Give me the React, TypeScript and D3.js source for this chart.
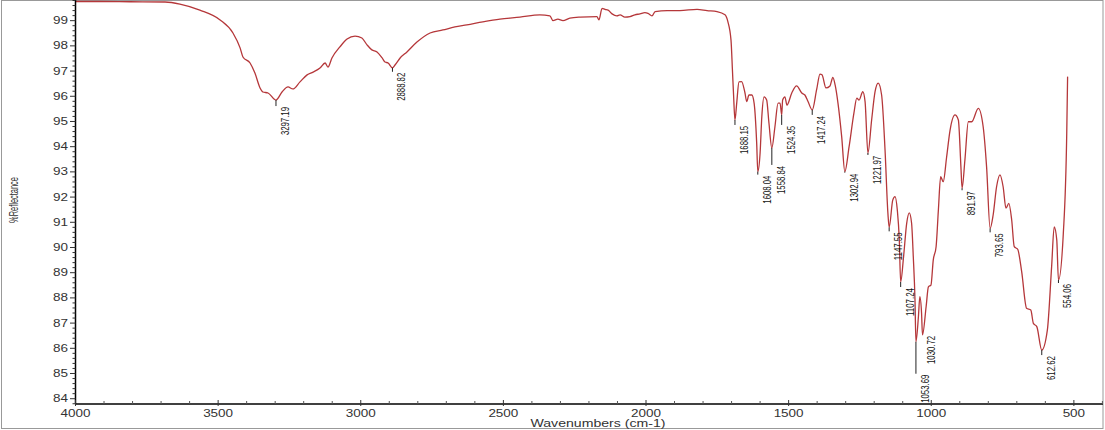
import React from 'react';
import * as d3 from 'd3';

// spectrum (cm-1 -> %R)
const wavenumbers = [
  4000, 3914, 3809, 3686, 3634, 3564, 3493, 3448, 3423, 3413,
  3388, 3371, 3353, 3343, 3325, 3297.19, 3276, 3255, 3238, 3213,
  3188, 3167, 3143, 3125, 3115, 3101, 3073, 3048, 3020, 2996,
  2978, 2961, 2943, 2925, 2915, 2904, 2888.82, 2880, 2862, 2838,
  2803, 2757, 2712, 2670, 2628, 2572, 2512, 2442, 2372, 2337,
  2326, 2309, 2291, 2267, 2231, 2172, 2165, 2154, 2144, 2133,
  2119, 2102, 2091, 2074, 2056, 2039, 2021, 2004, 1993, 1979,
  1968, 1926, 1881, 1821, 1786, 1751, 1723, 1713, 1702, 1697,
  1693, 1688.15, 1682, 1674, 1665, 1653, 1647, 1639, 1629, 1621,
  1612, 1608.04, 1600, 1594, 1586, 1577, 1569, 1558.84, 1548, 1537,
  1530, 1524.35, 1521, 1513, 1506, 1489, 1472, 1454, 1443, 1432,
  1417.24, 1402, 1390, 1383, 1369, 1355, 1345, 1337, 1327, 1314,
  1302.94, 1288, 1271, 1261, 1253, 1240, 1232, 1221.97, 1209, 1197,
  1186, 1174, 1162, 1152, 1147.55, 1135, 1127, 1119, 1112, 1107.24,
  1097, 1086, 1077, 1069, 1063, 1057, 1053.69, 1045, 1040, 1034,
  1030.72, 1018, 1010, 1001, 993, 983, 975, 967, 958, 946,
  934, 917, 905, 896, 891.97, 882, 870, 858, 835, 818,
  806, 793.65, 783, 771, 759, 748, 738, 728, 718, 709,
  697, 683, 666, 651, 642, 630, 612.62, 593, 578, 569,
  560, 554.06, 537, 525, 522,
];

const reflectance = [
  99.76, 99.76, 99.75, 99.74, 99.66, 99.42, 99.03, 98.51, 97.92, 97.56,
  97.32, 96.92, 96.33, 96.17, 96.13, 95.85, 96.17, 96.37, 96.29, 96.57,
  96.85, 96.96, 97.12, 97.32, 97.16, 97.52, 97.96, 98.27, 98.39, 98.31,
  98.04, 97.84, 97.76, 97.52, 97.36, 97.32, 97.13, 97.24, 97.52, 97.76,
  98.15, 98.51, 98.63, 98.75, 98.83, 98.95, 99.06, 99.14, 99.23, 99.19,
  99.0, 99.06, 99.0, 99.1, 99.14, 99.16, 99.03, 99.49, 99.45, 99.42,
  99.27, 99.19, 99.23, 99.14, 99.16, 99.23, 99.27, 99.32, 99.29, 99.19,
  99.36, 99.4, 99.4, 99.45, 99.4, 99.36, 99.23, 98.96, 98.23, 97.04,
  96.05, 95.06, 95.73, 96.57, 96.58, 96.13, 95.79, 96.05, 96.05, 95.73,
  94.15, 93.01, 93.75, 95.19, 95.98, 95.85, 94.94, 93.95, 94.79, 95.73,
  95.73, 95.26, 95.85, 95.98, 95.65, 96.13, 96.41, 96.13, 96.05, 95.79,
  95.46, 96.25, 96.88, 96.85, 96.33, 96.41, 96.75, 96.45, 95.73, 94.4,
  93.01, 94.0, 95.34, 95.93, 95.85, 96.18, 95.79, 93.75, 95.06, 96.18,
  96.52, 96.05, 93.87, 91.37, 90.8, 91.88, 92.02, 91.49, 90.3, 88.63,
  89.64, 90.97, 91.37, 90.97, 89.64, 87.92, 86.26, 87.25, 88.05, 87.4,
  86.53, 87.65, 88.44, 88.51, 89.5, 90.03, 91.49, 92.81, 92.61, 93.6,
  94.66, 95.26, 95.06, 93.2, 92.35, 93.47, 94.99, 94.99, 95.52, 94.79,
  93.2, 90.76, 91.29, 92.41, 92.88, 92.41, 91.56, 91.75, 91.09, 90.03,
  89.93, 89.04, 87.59, 87.52, 86.99, 86.86, 85.93, 86.72, 89.24, 90.82,
  90.3, 88.71, 90.56, 94.53, 96.78,
];

// labelled minima
const peakLabels = [
  3297.19, 2888.82, 1688.15, 1608.04, 1558.84, 1524.35, 1417.24, 1302.94,
  1221.97, 1147.55, 1107.24, 1053.69, 1030.72, 891.97, 793.65, 612.62, 554.06,
];

const yTicks = d3.range(84, 100);
const xTicks = [4000, 3500, 3000, 2500, 2000, 1500, 1000, 500];

// leader line length under each peak label (px)
const leaders = [6, 4, 5, 3, 17, 10, 5, 1, 2, 4, 5, 32, 0, 2, 4, 5, 3];

const W = 1105;
const H = 430;
const font = "'Liberation Sans', Arial, sans-serif";

export default function App() {
  const x = d3.scaleLinear().domain([4000, 400]).range([75.5, 1102.4]);
  const y = d3.scaleLinear().domain([83.79, 99.82]).range([404, 0]);

  const line = d3
    .line<number>()
    .x((d, i) => x(wavenumbers[i]))
    .y(d => y(d))
    .curve(d3.curveMonotoneX);

  const yMinor = d3.range(83.8, 99.81, 0.2).filter(v => Math.abs(v - Math.round(v)) > 0.01);
  const xMinor = d3.range(4000, 399, -100).filter(v => v % 500 !== 0);

  return (
    <svg
      width={W}
      height={H}
      style={{ position: 'absolute', left: 0, top: 0, background: '#fff' }}
    >
      {/* outer frame */}
      <rect x={1.5} y={0.5} width={1101.5} height={428} fill="none" stroke="#999" />

      {/* spectrum */}
      <path d={line(reflectance) || ''} fill="none" stroke="#b5373a" strokeWidth={1.3} />

      {/* y axis */}
      <g fontFamily={font} fontSize={10} fill="#333">
        <line x1={75.5} x2={75.5} y1={0} y2={404} stroke="#000" strokeWidth={1.5} />
        {yMinor.map(v => (
          <line key={'ym' + v} x1={72.5} x2={75.5} y1={y(v)} y2={y(v)} stroke="#333" />
        ))}
        {yTicks.map(v => (
          <g key={'y' + v}>
            <line x1={70} x2={75.5} y1={y(v)} y2={y(v)} stroke="#333" />
            <text
              x={68}
              y={y(v)}
              dy="0.35em"
              textAnchor="end"
              textLength={15}
              lengthAdjust="spacingAndGlyphs"
            >
              {v}
            </text>
          </g>
        ))}
        <text
          transform={`translate(13,200) rotate(-90)`}
          dy="0.35em"
          textAnchor="middle"
          fontSize={13}
          textLength={46}
          lengthAdjust="spacingAndGlyphs"
        >
          %Reflectance
        </text>
      </g>

      {/* x axis */}
      <g fontFamily={font} fontSize={10} fill="#333">
        <line x1={75.5} x2={1103} y1={404} y2={404} stroke="#000" strokeWidth={1.5} />
        {xMinor.map(v => (
          <line key={'xm' + v} x1={x(v)} x2={x(v)} y1={401} y2={404} stroke="#555" />
        ))}
        {xTicks.map(v => {
          const s = String(v);
          return (
            <g key={'x' + v}>
              <line x1={x(v)} x2={x(v)} y1={400} y2={406} stroke="#333" />
              <text
                x={x(v)}
                y={417}
                textAnchor="middle"
                textLength={s.length * 7.5}
                lengthAdjust="spacingAndGlyphs"
              >
                {s}
              </text>
            </g>
          );
        })}
        <text
          x={598}
          y={427}
          textAnchor="middle"
          textLength={135}
          lengthAdjust="spacingAndGlyphs"
        >
          Wavenumbers (cm-1)
        </text>
      </g>

      {/* peak labels */}
      <g fontFamily={font} fontSize={11} fill="#111">
        {peakLabels.map((w, i) => {
          const idx = wavenumbers.indexOf(w);
          const px = x(w);
          const py = y(reflectance[idx]);
          const label = w.toFixed(2);
          const lead = leaders[i];
          return (
            <g key={'p' + w}>
              {lead > 0 && (
                <line x1={px} x2={px} y1={py} y2={py + lead} stroke="#222" strokeWidth={1} />
              )}
              <text
                transform={`translate(${px + 9},${py + lead + 1}) rotate(-90)`}
                dy="0.35em"
                textAnchor="end"
                textLength={label.length * 4}
                lengthAdjust="spacingAndGlyphs"
              >
                {label}
              </text>
            </g>
          );
        })}
      </g>
    </svg>
  );
}
